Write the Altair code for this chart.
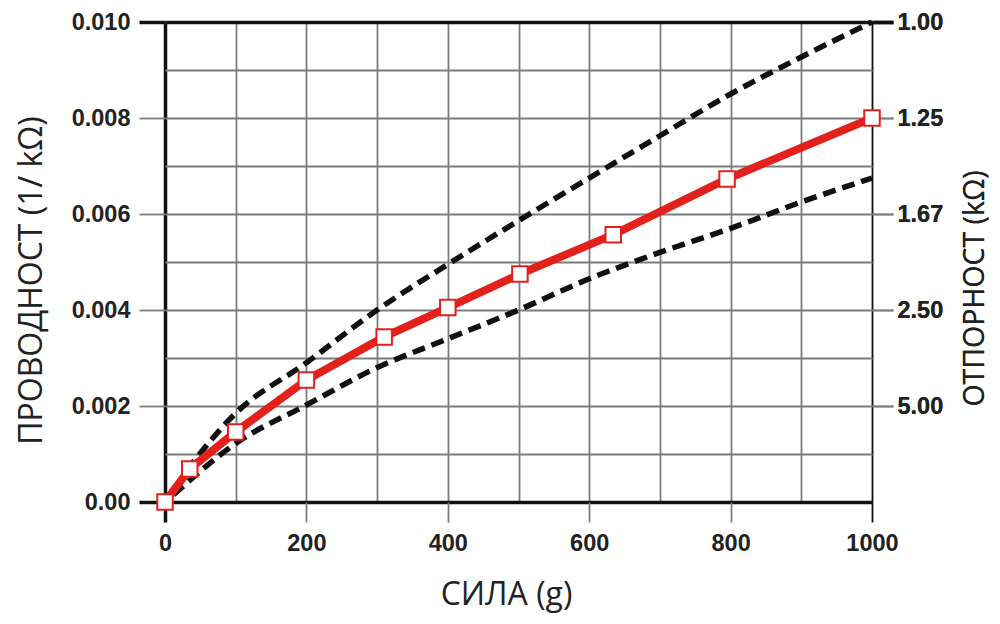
import altair as alt
import pandas as pd

# ---- data ----
force = [0, 35, 100, 200, 310, 400, 502, 634, 795, 1000]
conductance = [0.0, 0.00069, 0.00146, 0.00254, 0.00344, 0.00405, 0.00475, 0.00557, 0.00673, 0.0080]

upper_force = [30, 100, 200, 300, 400, 500, 600, 700, 800, 900, 1000]
upper_cond = [0.00065, 0.00185, 0.0029, 0.0040, 0.00495, 0.00586, 0.00675, 0.00763, 0.0085, 0.00927, 0.0100]

lower_force = [12, 100, 200, 300, 400, 500, 600, 700, 800, 900, 1000]
lower_cond = [0.00015, 0.00122, 0.00202, 0.0028, 0.0034, 0.0040, 0.00465, 0.0052, 0.0057, 0.00625, 0.00675]

x_grid_values = [0, 100, 200, 300, 400, 500, 600, 700, 800, 900, 1000]
x_tick_values = [0, 200, 400, 600, 800, 1000]
x_tick_labels = ["0", "200", "400", "600", "800", "1000"]

y_grid_values = [0.0, 0.001, 0.002, 0.003, 0.004, 0.005, 0.006, 0.007, 0.008, 0.009, 0.010]
y_tick_values = [0.0, 0.002, 0.004, 0.006, 0.008, 0.010]
y_tick_labels = ["0.00", "0.002", "0.004", "0.006", "0.008", "0.010"]

r_tick_values = [0.002, 0.004, 0.006, 0.008, 0.010]
r_tick_labels = ["5.00", "2.50", "1.67", "1.25", "1.00"]

RED = "#e3211c"
TXT = "#222222"
GRID = "#7d7d7d"
DARK = "#111111"

df_main = pd.DataFrame({"force": force, "cond": conductance})
df_dash = pd.concat([
    pd.DataFrame({"force": upper_force, "cond": upper_cond, "band": "upper"}),
    pd.DataFrame({"force": lower_force, "cond": lower_cond, "band": "lower"}),
])


def js_arr(vals):
    return "[" + ",".join("'" + v + "'" for v in vals) + "]"


def idx_expr(vals):
    parts = []
    for i, v in enumerate(vals):
        parts.append(f"abs(datum.value-{v})<1e-7?{i}:")
    return "(" + "".join(parts) + "-1)"


x_idx = idx_expr(x_tick_values)
y_idx = idx_expr(y_tick_values)
r_idx = idx_expr(r_tick_values)

x_scale = alt.Scale(domain=[0, 1000], nice=False, zero=False)
y_scale = alt.Scale(domain=[0, 0.010], nice=False, zero=False)

label_font = "Liberation Sans"
title_font = "Open Sans"

x_edge = "datum.value==0 || datum.value==1000"
y_edge = "datum.value<0.0001 || datum.value>0.0099"

x_axis = alt.Axis(
    values=x_grid_values,
    labelExpr=f"{x_idx}>=0 ? {js_arr(x_tick_labels)}[{x_idx}] : ''",
    grid=True,
    gridColor={"condition": {"test": x_edge, "value": DARK}, "value": GRID},
    gridWidth={"condition": {"test": "datum.value==0", "value": 3.5},
               "value": 1.8},
    domain=False,
    tickSize=20,
    tickColor={"condition": {"test": x_edge, "value": DARK}, "value": GRID},
    tickWidth={"condition": {"test": "datum.value==0", "value": 3.5},
               "value": 1.8},
    tickOpacity={"condition": {"test": f"{x_idx}<0", "value": 0}, "value": 1},
    labelFont=label_font, labelFontSize=23.5, labelFontWeight="bold", labelColor=TXT,
    labelPadding=9, labelFlush=False, labelOverlap=False,
    title="СИЛА (g)", titleFont=title_font, titleFontSize=32, titleFontWeight="normal",
    titleColor=TXT, titleX=341, titleY=102, titleBaseline="alphabetic", titleAlign="center",
)

y_axis_left = alt.Axis(
    orient="left",
    values=y_grid_values,
    labelExpr=f"{y_idx}>=0 ? {js_arr(y_tick_labels)}[{y_idx}] : ''",
    grid=True,
    gridColor={"condition": {"test": y_edge, "value": DARK}, "value": GRID},
    gridWidth={"condition": {"test": y_edge, "value": 3.5}, "value": 1.8},
    domain=False,
    tickSize=26,
    tickColor={"condition": {"test": y_edge, "value": DARK}, "value": GRID},
    tickWidth={"condition": {"test": y_edge, "value": 3.5}, "value": 1.8},
    tickOpacity={"condition": {"test": f"{y_idx}<0", "value": 0}, "value": 1},
    labelFont=label_font, labelFontSize=23.5, labelFontWeight="bold", labelColor=TXT,
    labelPadding=9, labelFlush=False, labelOverlap=False,
    title="ПРОВОДНОСТ (1/ kΩ)", titleFont=title_font, titleFontSize=32, titleFontWeight="normal",
    titleColor=TXT, titleX=-134, titleY=258, titleAngle=270, titleBaseline="middle", titleAlign="center",
)

y_axis_right = alt.Axis(
    orient="right",
    values=r_tick_values,
    labelExpr=f"{r_idx}>=0 ? {js_arr(r_tick_labels)}[{r_idx}] : ''",
    grid=False,
    domain=False,
    tickSize=21,
    tickColor={"condition": {"test": "datum.value>0.0099", "value": DARK}, "value": GRID},
    tickWidth={"condition": {"test": "datum.value>0.0099", "value": 3.5}, "value": 1.8},
    labelFont=label_font, labelFontSize=23.5, labelFontWeight="bold", labelColor=TXT,
    labelPadding=4, labelFlush=False, labelOverlap=False,
    title="ОТПОРНОСТ (kΩ)", titleFont=title_font, titleFontSize=28.5, titleFontWeight="normal",
    titleColor=TXT, titleX=102, titleY=266, titleAngle=270, titleBaseline="middle", titleAlign="center",
)

X = alt.X("force:Q", scale=x_scale, axis=x_axis)

dashed = alt.Chart(df_dash).mark_line(
    color=DARK, strokeWidth=5.5, strokeDash=[13, 7], strokeCap="butt", interpolate="monotone"
).encode(
    x=X,
    y=alt.Y("cond:Q", scale=y_scale, axis=y_axis_left),
    detail="band:N",
)

red_line = alt.Chart(df_main).mark_line(color=RED, strokeWidth=8).encode(
    x=X,
    y=alt.Y("cond:Q", scale=y_scale, axis=y_axis_right),
)

markers = alt.Chart(df_main).mark_point(
    shape="square", filled=True, fill="white", stroke=RED, strokeWidth=2, size=240, opacity=1
).encode(
    x=X,
    y=alt.Y("cond:Q", scale=y_scale, axis=y_axis_right),
)

chart = alt.layer(dashed, red_line, markers).resolve_axis(y="independent").properties(
    width=707,
    height=480,
    autosize=alt.AutoSizeParams(type="none"),
    padding={"left": 157, "top": 14, "right": 120, "bottom": 114},
    background="white",
).configure_view(stroke=None)

chart.save("out.html", embed_options={"renderer": "svg", "actions": False})
